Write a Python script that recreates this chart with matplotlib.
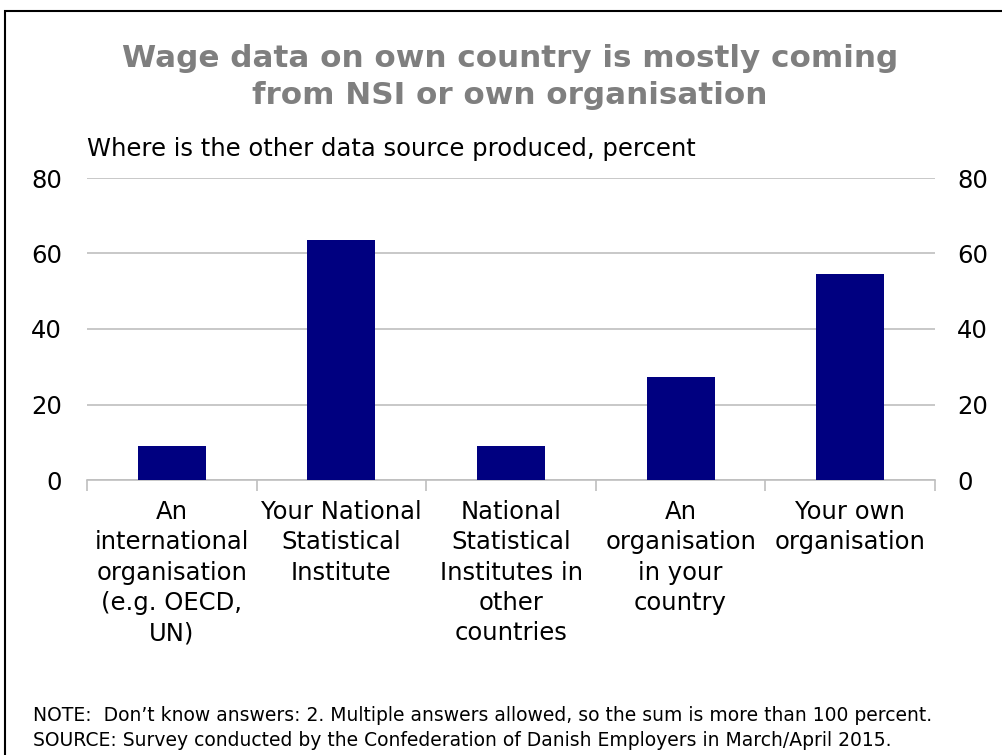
import matplotlib
matplotlib.use("Agg")
import matplotlib.pyplot as plt
from matplotlib.patches import Rectangle

categories = [
    "An\ninternational\norganisation\n(e.g. OECD,\nUN)",
    "Your National\nStatistical\nInstitute",
    "National\nStatistical\nInstitutes in\nother\ncountries",
    "An\norganisation\nin your\ncountry",
    "Your own\norganisation",
]
values = [9.1, 63.6, 9.1, 27.3, 54.5]
yticks = [0, 20, 40, 60, 80]

title = "Wage data on own country is mostly coming\nfrom NSI or own organisation"
subtitle = "Where is the other data source produced, percent"
note = ("NOTE:  Don\u2019t know answers: 2. Multiple answers allowed, so the sum is more than 100 percent.\n"
        "SOURCE: Survey conducted by the Confederation of Danish Employers in March/April 2015.")

plt.rcParams["font.family"] = ["DejaVu Sans"]

W, H = 1003, 755
fig = plt.figure(figsize=(W / 100, H / 100), dpi=100)

# outer frame
fig.patches.append(Rectangle((5 / W, -0.05), 1.1, 1 - 11 / H + 0.05,
                             transform=fig.transFigure, fill=False,
                             edgecolor="black", linewidth=1.5))

grid_col = "#bfbfbf"
ax = fig.add_axes([87 / W, 1 - 480 / H, (935 - 87) / W, (480 - 178) / H])
x = list(range(len(categories)))
ax.bar(x, values, width=0.4, color="#000080", zorder=3)
ax.set_xlim(-0.5, len(categories) - 0.5)
ax.set_ylim(0, 80)
ax.set_yticks(yticks)
ax.yaxis.grid(True, color=grid_col, linewidth=1.2, zorder=0)
for s in ["left", "right", "top"]:
    ax.spines[s].set_visible(False)
ax.spines["bottom"].set_color(grid_col)
ax.spines["bottom"].set_linewidth(1.2)
ax.tick_params(axis="y", length=0, labelsize=17.5, pad=18)
ax.set_xticks([i - 0.5 for i in range(len(categories) + 1)])
ax.set_xticklabels([])
ax.tick_params(axis="x", length=8, width=1.2, color=grid_col)
for i, c in enumerate(categories):
    ax.text(i, -5.3, c, ha="center", va="top", fontsize=17.5,
            linespacing=1.33)

ax2 = ax.twinx()
ax2.set_ylim(0, 80)
ax2.set_yticks(yticks)
for s in ["left", "right", "top", "bottom"]:
    ax2.spines[s].set_visible(False)
ax2.tick_params(axis="y", length=0, labelsize=17.5, pad=16)

fig.text(510 / W, 1 - 77 / H, title, ha="center", va="center",
         fontsize=22.3, fontweight="bold", color="#7f7f7f", linespacing=1.34)
fig.text(87 / W, 1 - 149 / H, subtitle, ha="left", va="center", fontsize=17.5)
fig.text(33 / W, 1 - 728 / H, note, ha="left", va="center", fontsize=13.5,
         linespacing=1.43)

fig.savefig("out.png", dpi=100)
